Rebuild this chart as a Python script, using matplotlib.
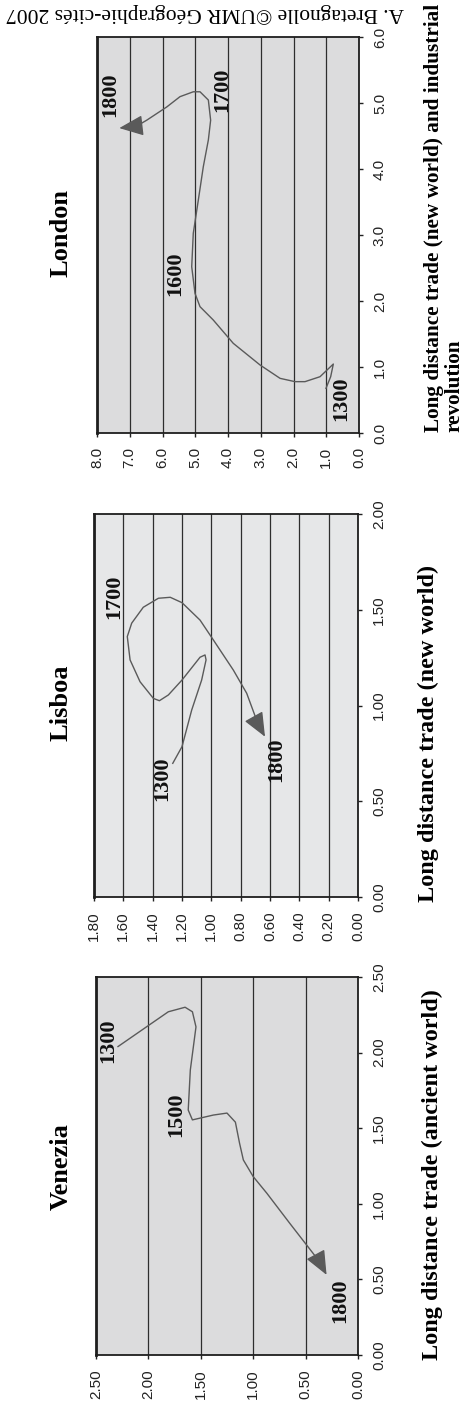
import numpy as np
import matplotlib.pyplot as plt
from matplotlib.ticker import FormatStrFormatter

# Trajectories of three port cities: long distance trade (x) against city weight (y).
# The page is laid out turned a quarter turn, so x runs up the page and y runs
# right to left.

venezia_x = [2.04, 2.27, 2.30, 2.27, 2.17, 1.885, 1.62, 1.555, 1.587, 1.60, 1.54,
             1.40, 1.29, 1.18, 1.07, 0.87, 0.62, 0.53]
venezia_y = [2.29, 1.81, 1.65, 1.58, 1.546, 1.60, 1.62, 1.58, 1.38, 1.25, 1.17,
             1.13, 1.094, 1.00, 0.87, 0.65, 0.37, 0.30]
venezia_years = ['1300', '1500', '1800']
venezia_year_x = [2.08, 1.587, 0.36]
venezia_year_y = [2.38, 1.73, 0.17]

lisboa_x = [0.698, 0.785, 0.976, 1.133, 1.238, 1.264, 1.252, 1.133, 1.055, 1.025,
            1.037, 1.124, 1.238, 1.36, 1.43, 1.513, 1.56, 1.565, 1.537, 1.446,
            1.342, 1.185, 1.064, 0.90, 0.837]
lisboa_y = [1.263, 1.20, 1.134, 1.066, 1.036, 1.043, 1.077, 1.20, 1.293, 1.354,
            1.395, 1.486, 1.554, 1.573, 1.543, 1.464, 1.361, 1.28, 1.20, 1.077,
            0.986, 0.85, 0.759, 0.68, 0.634]
lisboa_years = ['1300', '1700', '1800']
lisboa_year_x = [0.62, 1.568, 0.715]
lisboa_year_y = [1.338, 1.663, 0.559]

london_x = [0.677, 0.853, 1.045, 0.853, 0.778, 0.778, 0.828, 1.03, 1.359, 1.712,
            1.914, 2.116, 2.52, 3.026, 3.53, 4.035, 4.44, 4.74, 5.045, 5.17, 5.17,
            5.096, 4.94, 4.74, 4.65, 4.62]
london_y = [1.008, 0.865, 0.784, 1.19, 1.649, 1.954, 2.41, 3.02, 3.84, 4.45,
            4.855, 5.008, 5.108, 5.06, 4.906, 4.754, 4.60, 4.53, 4.60, 4.855, 5.06,
            5.466, 5.87, 6.48, 6.79, 7.32]
london_years = ['1300', '1600', '1700', '1800']
london_year_x = [0.525, 2.42, 5.2, 5.12]
london_year_y = [0.53, 5.62, 4.19, 7.6]

W, H = 469, 1406
fig = plt.figure(figsize=(W / 100, H / 100), dpi=100)

serif = 'Liberation Serif'
sans = 'Liberation Sans'
line_col = '#5a5a5a'


def px_box(x0, y0, x1, y1):
    return [x0 / W, 1 - y1 / H, (x1 - x0) / W, (y1 - y0) / H]


def panel(box, xs, ys, xmax, xstep, ymax, ystep, fmt, years, yx, yy, bg):
    ax = fig.add_axes(px_box(*box))
    ax.set_facecolor(bg)
    ax.plot(ys[:-1], xs[:-1], color=line_col, lw=1.0)
    ax.annotate('', xy=(ys[-1], xs[-1]), xytext=(ys[-2], xs[-2]),
                arrowprops=dict(arrowstyle='-|>,head_length=0.75,head_width=0.32',
                                mutation_scale=20, color=line_col, lw=1.0,
                                shrinkA=0, shrinkB=0))
    ax.set_xlim(ymax, 0)
    ax.set_ylim(0, xmax)
    ax.set_xticks(np.arange(0, ymax + ystep / 2, ystep))
    ax.set_yticks(np.arange(0, xmax + xstep / 2, xstep))
    ax.xaxis.set_major_formatter(FormatStrFormatter(fmt))
    ax.yaxis.set_major_formatter(FormatStrFormatter(fmt))
    ax.yaxis.tick_right()
    ax.tick_params(axis='both', direction='out', length=3, width=1, colors='#222',
                   labelrotation=90, labelsize=11, pad=7)
    for lab in ax.get_xticklabels() + ax.get_yticklabels():
        lab.set_fontfamily(sans)
    for lab in ax.get_yticklabels():
        lab.set_verticalalignment('center')
    ax.xaxis.grid(True, color='#2e2e2e', lw=0.9)
    ax.set_axisbelow(True)
    for side, sp in ax.spines.items():
        sp.set_color('#1e1e1e')
        sp.set_linewidth(1.3)
    ax.spines['left'].set_linewidth(2.0)
    for t, x, y in zip(years, yx, yy):
        ax.text(y, x, t, rotation=90, ha='center', va='center', fontsize=16,
                fontweight='bold', fontfamily=serif, color='#111')
    return ax


panel((97, 37, 359, 433), london_x, london_y, 6.0, 1.0, 8.0, 1.0, '%.1f',
      london_years, london_year_x, london_year_y, '#dcdcdd')
panel((94, 514, 358, 897), lisboa_x, lisboa_y, 2.0, 0.5, 1.8, 0.2, '%.2f',
      lisboa_years, lisboa_year_x, lisboa_year_y, '#e6e7e8')
panel((96, 977, 358, 1355), venezia_x, venezia_y, 2.5, 0.5, 2.5, 0.5, '%.2f',
      venezia_years, venezia_year_x, venezia_year_y, '#dcdcdd')

# Titles, axis captions and credit line
title_kw = dict(rotation=90, ha='center', va='center', fontsize=19,
                fontweight='bold', fontfamily=serif)
fig.text(61 / W, 1 - 233 / H, 'London', **title_kw)
fig.text(61 / W, 1 - 703 / H, 'Lisboa', **title_kw)
fig.text(61 / W, 1 - 1167 / H, 'Venezia', **title_kw)

label_kw = dict(rotation=90, ha='center', va='center', fontsize=17.5,
                fontweight='bold', fontfamily=serif)
fig.text(444 / W, 1 - 218 / H,
         'Long distance trade (new world) and industrial\nrevolution',
         rotation=90, ha='center', va='center', fontsize=15.3, fontweight='bold',
         fontfamily=serif, multialignment='left', linespacing=1.05)
fig.text(428 / W, 1 - 733 / H, 'Long distance trade (new world)', **label_kw)
fig.text(432 / W, 1 - 1175 / H, 'Long distance trade (ancient world)', **label_kw)

fig.text(205 / W, 1 - 13 / H, 'A. Bretagnolle \u00a9UMR G\u00e9ographie-cit\u00e9s 2007',
         rotation=180, ha='center', va='center', fontsize=15.5, fontfamily=serif)

fig.savefig('out.png', dpi=100)
